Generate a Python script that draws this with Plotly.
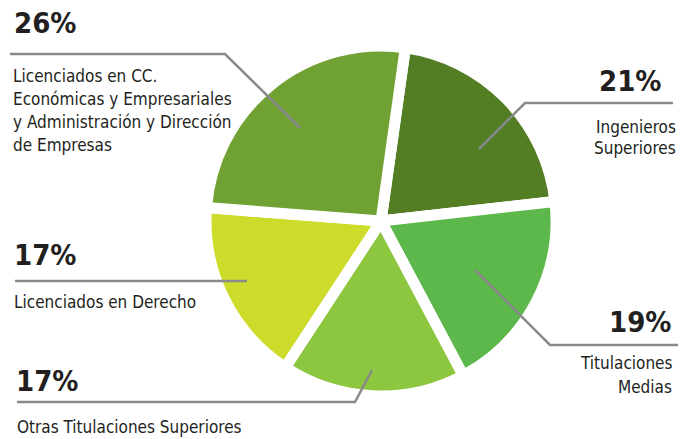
import plotly.graph_objects as go

# ---- data ----
categories = [
    "Ingenieros Superiores",
    "Titulaciones Medias",
    "Otras Titulaciones Superiores",
    "Licenciados en Derecho",
    "Licenciados en CC. Económicas y Empresariales y Administración y Dirección de Empresas",
]
values = [21, 19, 17, 17, 26]
pct_labels = ["21%", "19%", "17%", "17%", "26%"]
desc_lines = [
    ["Ingenieros", "Superiores"],
    ["Titulaciones", "Medias"],
    ["Otras Titulaciones Superiores"],
    ["Licenciados en Derecho"],
    ["Licenciados en CC.", "Económicas y Empresariales", "y Administración y Dirección", "de Empresas"],
]
colors = ["#547e23", "#5cb84a", "#8dc63f", "#cddc2a", "#6fa232"]

W, H = 685, 439
FONT = "DejaVu Sans Condensed, Liberation Sans Narrow, sans-serif"
TXT = "#231f20"
LINE = "#8a8a8c"


def px(x):
    return x / W


def py(y):
    return 1 - y / H


# pie geometry (pixels)
cx, cy, r = 381, 221, 175
fig = go.Figure(go.Pie(
    labels=categories,
    values=values,
    sort=False,
    direction="clockwise",
    rotation=8,
    marker=dict(colors=colors, line=dict(color="white", width=11)),
    textinfo="none",
    hoverinfo="label+percent",
    showlegend=False,
    domain=dict(x=[px(cx - r), px(cx + r)], y=[py(cy + r), py(cy - r)]),
))

layouts = [
    dict(px_=663, py_=81, anchor="right", ly=[127, 148], tx=678,
         path=[(673, 103), (525, 103), (479, 149)]),
    dict(px_=673, py_=322, anchor="right", ly=[363, 387], tx=674,
         path=[(678, 345), (550, 345), (475, 270)]),
    dict(px_=14, py_=381, anchor="left", ly=[427], tx=15,
         path=[(17, 402), (355, 402), (372, 370)]),
    dict(px_=12, py_=255, anchor="left", ly=[302], tx=12,
         path=[(15, 281), (247, 281)]),
    dict(px_=12, py_=23, anchor="left", ly=[76, 99, 122, 145], tx=11,
         path=[(10, 54), (225, 54), (300, 128)]),
]

annotations = []
shapes = []
for i, lay in enumerate(layouts):
    annotations.append(dict(
        x=px(lay["px_"]), y=py(lay["py_"]), xref="paper", yref="paper",
        text="<b>" + pct_labels[i] + "</b>", showarrow=False,
        xanchor=lay["anchor"], yanchor="middle",
        font=dict(family=FONT, size=29, color=TXT),
    ))
    for line_txt, yy in zip(desc_lines[i], lay["ly"]):
        annotations.append(dict(
            x=px(lay["tx"]), y=py(yy), xref="paper", yref="paper",
            text=line_txt, showarrow=False,
            xanchor=lay["anchor"], yanchor="middle",
            font=dict(family=FONT, size=17, color=TXT),
        ))
    pts = lay["path"]
    d = "M " + " L ".join(f"{px(a)},{py(b)}" for a, b in pts)
    shapes.append(dict(type="path", xref="paper", yref="paper", path=d,
                       line=dict(color=LINE, width=2.5)))

fig.update_layout(
    width=W, height=H,
    margin=dict(l=0, r=0, t=0, b=0),
    paper_bgcolor="white",
    plot_bgcolor="white",
    annotations=annotations,
    shapes=shapes,
)

fig.write_html("out.html", config={"displayModeBar": False},
               post_script="document.body.style.margin='0';")
